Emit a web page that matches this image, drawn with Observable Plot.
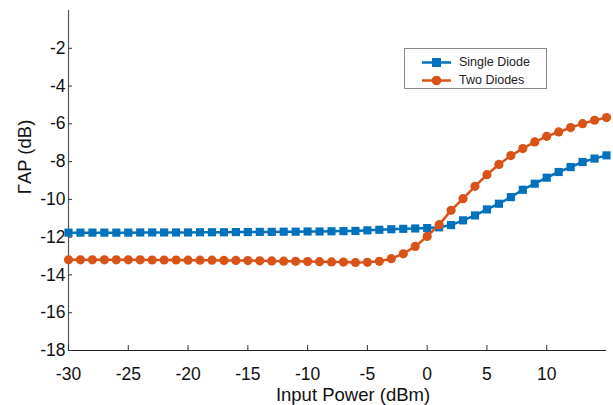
<!DOCTYPE html>
<html>
<head>
<meta charset="utf-8">
<script src="https://cdn.jsdelivr.net/npm/d3@7"></script>
<script src="https://cdn.jsdelivr.net/npm/@observablehq/plot@0.6"></script>
<style>
  html, body { margin: 0; padding: 0; background: #fff; }
  #wrap { position: relative; width: 613px; height: 405px; font-family: "Liberation Sans", Arial, sans-serif; }
  #legend { position: absolute; left: 404px; top: 48px; width: 143px; height: 41px; border: 1px solid #8a8a8a; background: #fff; box-sizing: border-box; font-size: 12.5px; color: #222; }
  .lg-row { position: absolute; left: 0; height: 18px; display: flex; align-items: center; }
  .lg-row svg { margin-left: 17px; margin-right: 8px; }
  #ylab { position: absolute; left: 25px; top: 157px; transform: translate(-50%, -50%) rotate(-90deg); font-size: 18.5px; white-space: nowrap; color: #111; }
  #xlab { position: absolute; left: 353px; top: 395px; transform: translate(-50%, -50%); font-size: 18.5px; white-space: nowrap; color: #111; }
</style>
</head>
<body>
<div id="wrap"></div>
<script>
// ---- data ----
const inputPower = [-30,-29,-28,-27,-26,-25,-24,-23,-22,-21,-20,-19,-18,-17,-16,-15,-14,-13,-12,-11,-10,-9,-8,-7,-6,-5,-4,-3,-2,-1,0,1,2,3,4,5,6,7,8,9,10,11,12,13,14,15];
const singleDiode = [-11.76,-11.76,-11.76,-11.76,-11.76,-11.76,-11.75,-11.75,-11.75,-11.75,-11.75,-11.74,-11.74,-11.74,-11.73,-11.73,-11.72,-11.72,-11.71,-11.71,-11.70,-11.70,-11.69,
  -11.68,-11.67,-11.64,-11.61,-11.58,-11.56,-11.54,-11.52,-11.48,-11.36,-11.11,-10.85,-10.53,-10.23,-9.88,-9.49,-9.17,-8.85,-8.55,-8.29,-8.02,-7.84,-7.67];
const twoDiodes = [-13.20,-13.20,-13.20,-13.20,-13.20,-13.20,-13.20,-13.21,-13.21,-13.21,-13.22,-13.22,-13.22,-13.23,-13.23,-13.24,-13.25,-13.26,-13.27,-13.28,-13.29,-13.30,-13.31,
  -13.32,-13.34,-13.33,-13.28,-13.14,-12.88,-12.49,-11.96,-11.34,-10.58,-9.96,-9.31,-8.69,-8.15,-7.68,-7.31,-6.96,-6.66,-6.43,-6.20,-5.99,-5.81,-5.67];
const xTicks = [-30,-25,-20,-15,-10,-5,0,5,10];
const yTicks = [-18,-16,-14,-12,-10,-8,-6,-4,-2];
const seriesNames = ["Single Diode", "Two Diodes"];
const seriesColors = ["#0072BD", "#D95319"];
const xDomain = [-30, 15];
const yDomain = [-18, 0];

const single = inputPower.map((x, i) => ({x, y: singleDiode[i]}));
const two = inputPower.map((x, i) => ({x, y: twoDiodes[i]}));
const fmt = d => String(d);

const chart = Plot.plot({
  width: 613,
  height: 405,
  marginLeft: 68,
  marginRight: 7,
  marginTop: 10,
  marginBottom: 55,
  style: {fontFamily: "'Liberation Sans', Arial, sans-serif", fontSize: "17.5px", color: "#111", background: "#fff"},
  x: {domain: xDomain},
  y: {domain: yDomain},
  marks: [
    Plot.ruleX([xDomain[0]], {y1: yDomain[0], y2: yDomain[1], stroke: "#555", strokeWidth: 1.2}),
    Plot.ruleY([yDomain[0]], {x1: xDomain[0], x2: xDomain[1], stroke: "#222", strokeWidth: 1.2}),
    Plot.axisX(xTicks, {tickSize: -5, tickPadding: 22, tickFormat: fmt, label: null, stroke: "#333", fill: "#111", fontSize: 17.5}),
    Plot.axisY(yTicks, {tickSize: -4, tickPadding: 7, tickFormat: fmt, label: null, stroke: "#333", fill: "#111", fontSize: 17.5}),
    Plot.line(single, {x: "x", y: "y", stroke: seriesColors[0], strokeWidth: 2.5}),
    Plot.dot(single, {x: "x", y: "y", symbol: "square", r: 4.6, fill: seriesColors[0], stroke: null}),
    Plot.line(two, {x: "x", y: "y", stroke: seriesColors[1], strokeWidth: 2.5}),
    Plot.dot(two, {x: "x", y: "y", symbol: "circle", r: 4.6, fill: seriesColors[1], stroke: null})
  ]
});

const wrap = document.getElementById("wrap");
wrap.appendChild(chart);

// axis labels
const ylab = document.createElement("div");
ylab.id = "ylab"; ylab.textContent = "ΓAP (dB)";
wrap.appendChild(ylab);
const xlab = document.createElement("div");
xlab.id = "xlab"; xlab.textContent = "Input Power (dBm)";
wrap.appendChild(xlab);

// legend
const legend = document.createElement("div");
legend.id = "legend";
seriesNames.forEach((name, i) => {
  const row = document.createElement("div");
  row.className = "lg-row";
  row.style.top = (i === 0 ? 4 : 22) + "px";
  const marker = i === 0
    ? `<rect x="10" y="3" width="9" height="9" fill="${seriesColors[i]}"/>`
    : `<circle cx="14.5" cy="7.5" r="4.8" fill="${seriesColors[i]}"/>`;
  row.innerHTML = `<svg width="29" height="15"><line x1="0" x2="29" y1="7.5" y2="7.5" stroke="${seriesColors[i]}" stroke-width="2.5"/>${marker}</svg><span>${name}</span>`;
  legend.appendChild(row);
});
wrap.appendChild(legend);
</script>
</body>
</html>
